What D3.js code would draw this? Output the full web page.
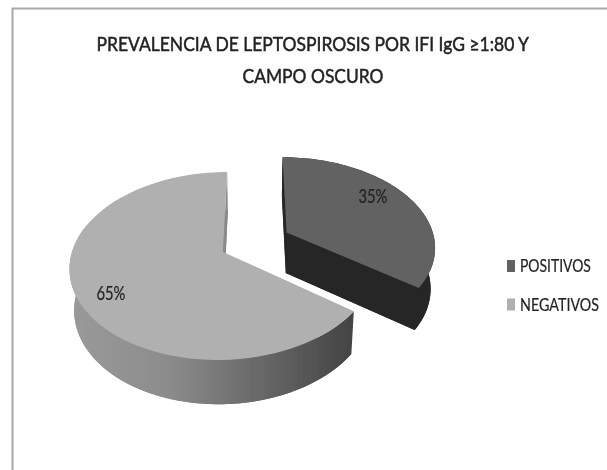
<!DOCTYPE html>
<meta charset="utf-8">
<style>
html, body { margin: 0; background: #fff; }
text { font-family: Lato, "Open Sans", sans-serif; fill: #222; }
</style>
<svg width="607" height="470"></svg>
<script src="https://d3js.org/d3.v7.min.js"></script>
<script>
var categories = ["POSITIVOS", "NEGATIVOS"];
var values = [35, 65];
var titleLines = ["PREVALENCIA DE LEPTOSPIROSIS POR IFI IgG \u22651:80 Y", "CAMPO OSCURO"];

var topColors = ["#626262", "#b0b0b0"];

var svg = d3.select("svg");
var defs = svg.append("defs");
defs.append("filter").attr("id", "soft")
    .append("feGaussianBlur").attr("stdDeviation", 0.55);

var grad = defs.append("linearGradient").attr("id", "bigside")
    .attr("gradientUnits", "userSpaceOnUse")
    .attr("x1", 68).attr("x2", 352).attr("y1", 0).attr("y2", 0);
grad.append("stop").attr("offset", 0).attr("stop-color", "#9a9a9a");
grad.append("stop").attr("offset", 0.35).attr("stop-color", "#8c8c8c");
grad.append("stop").attr("offset", 1).attr("stop-color", "#444444");

var chart = svg.append("g").attr("filter", "url(#soft)");

// frame, open on the right and at the bottom
chart.append("path")
    .attr("d", "M607,8.5H12.5V470")
    .attr("fill", "none").attr("stroke", "#a8a8a8").attr("stroke-width", 2);

// squeeze a text horizontally to the width it has in the picture, Lato is wider than the original font
function fitWidth(sel, x, y, widthOf, anchor) {
  sel.each(function(d, i) {
    var t = d3.select(this);
    var w = widthOf(d, i);
    var k = w / this.getComputedTextLength();
    var yy = typeof y == "function" ? y(d, i) : y;
    var left = anchor == "middle" ? x - w / 2 : x;
    t.attr("transform", "translate(" + left + "," + yy + ") scale(" + k + ",1)");
  });
}

var titleWidths = [433, 141];
chart.selectAll(".title").data(titleLines).enter().append("text")
    .attr("class", "title")
    .attr("font-size", 20)
    .attr("stroke", "#222").attr("stroke-width", 0.5)
    .text(function(d) { return d; })
    .call(fitWidth, 313, function(d, i) { return 51 + i * 32; },
      function(d, i) { return titleWidths[i]; }, "middle");

// tilted plane: the pie lies on it, far side foreshortened
var persp = 0.149, xVanish = 255, xApex = 223, yApex = 252, scaleU = 151, scaleV = 91.9;
function project(u, v) {
  var w = 1 + persp * v;
  return [xVanish + (xApex - xVanish + scaleU * u) / w, yApex - scaleV * v / w];
}
// underside of the pie
function drop(p) {
  return [xVanish + (p[0] - xVanish) * 0.975, yApex + (p[1] - yApex) * 1.03 + 41];
}

var pie = d3.pie().sort(null).value(function(d) { return d; });
var slices = pie(values);
var line = d3.line();
var explode = 0.48;

function center(s, i) {
  if (i != 0) return [0, 0];
  var mid = (s.startAngle + s.endAngle) / 2;
  return [explode * Math.sin(mid), explode * Math.cos(mid)];
}
function arcPoints(s, i, from, to) {
  var c = center(s, i);
  return d3.range(0, 81).map(function(k) {
    var a = from + (to - from) * k / 80;
    return project(c[0] + Math.sin(a), c[1] + Math.cos(a));
  });
}
function face(s, i) {
  var c = center(s, i);
  var pts = arcPoints(s, i, s.startAngle, s.endAngle);
  pts.unshift(project(c[0], c[1]));
  return pts;
}

// big slice first, the exploded one sits behind it in the corner
var order = [1, 0];
order.forEach(function(i) {
  var s = slices[i];
  var sideFill = i == 0 ? "#262626" : "url(#bigside)";
  var f = face(s, i);
  var last = f[f.length - 1];

  chart.append("path").attr("d", line(f.map(drop)) + "Z").attr("fill", sideFill);

  // outer wall, front part only
  var to = i == 0 ? s.endAngle : Math.PI * 1.6;
  var a = arcPoints(s, i, s.startAngle, to);
  var wall = a.concat(a.map(drop).reverse());
  chart.append("path").attr("d", line(wall) + "Z").attr("fill", sideFill);

  // cut walls
  if (i == 0) {
    chart.append("path")
      .attr("d", line([f[0], last, drop(last), drop(f[0])]) + "Z")
      .attr("fill", sideFill);
    chart.append("path")
      .attr("d", line([f[0], f[1], drop(f[1]), drop(f[0])]) + "Z")
      .attr("fill", sideFill);
  } else {
    chart.append("path")
      .attr("d", line([f[0], last, drop(last), drop(f[0])]) + "Z")
      .attr("fill", "#8a8a8a");
  }

  chart.append("path").attr("d", line(f) + "Z").attr("fill", topColors[i]);
});

// percent labels
slices.forEach(function(s, i) {
  var c = center(s, i);
  var mid = (s.startAngle + s.endAngle) / 2;
  var p = project(c[0] + 0.79 * Math.sin(mid), c[1] + 0.79 * Math.cos(mid));
  chart.append("text")
    .attr("font-size", 19)
    .attr("stroke", "#222").attr("stroke-width", 0.2)
    .text(values[i] + "%")
    .call(fitWidth, p[0] + (i == 0 ? -10 : 2), p[1] + (i == 0 ? 0 : 13),
      function() { return 29; }, "middle");
});

// legend
var legendWidths = [71, 79];
var legend = chart.selectAll(".legend").data(categories).enter().append("g")
    .attr("class", "legend")
    .attr("transform", function(d, i) { return "translate(507," + (260 + i * 38.5) + ")"; });
legend.append("rect").attr("width", 8).attr("height", 12)
    .attr("fill", function(d, i) { return topColors[i]; });
legend.append("text")
    .attr("font-size", 18)
    .attr("stroke", "#222").attr("stroke-width", 0.2)
    .text(function(d) { return d; })
    .each(function(d) {
      var i = categories.indexOf(d);
      var k = legendWidths[i] / this.getComputedTextLength();
      d3.select(this).attr("transform", "translate(13,12) scale(" + k + ",1)");
    });
</script>
